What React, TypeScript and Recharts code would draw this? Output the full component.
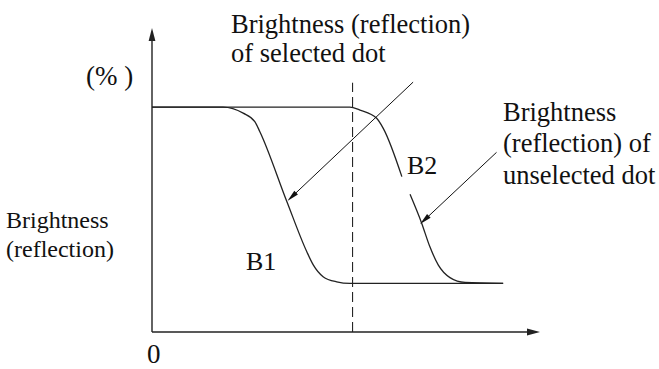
import React from 'react';
import { ComposedChart, Line, XAxis, YAxis, ReferenceLine } from 'recharts';

// brightness curves (x = position, y = brightness %)
const b1X = [0, 18.3, 23.5, 26.5, 27.8, 34.7, 39.9, 41.6, 44.1, 47.6, 51.0, 90.5];
const b1Y = [74, 74, 72.0, 69.2, 65.9, 43.1, 26.4, 22.0, 18.2, 16.5, 16, 16];

// B2 has a small break where its label sits
const b2X = [0, 51.0, 53.6, 57.9, 59.6, 64.4, 65.4, 66.5, 69.5, 71.6, 73.8, 76.8, 80.7, 90.5];
const b2Y = [74, 74, 73.0, 70.3, 67.0, 51.1, null, 45.3, 35.8, 28.1, 22.0, 17.9, 16.3, 16];

const thresholdX = 51.7;
const thresholdTop = 82;

// leader arrows: [from, to]
const selectedArrow = [{ x: 67.3, y: 82.2 }, { x: 34.9, y: 43.1 }];
const unselectedArrow = [{ x: 88.8, y: 59.1 }, { x: 69.1, y: 35.5 }];

const b1Data = b1X.map((x, i) => ({ x, y: b1Y[i] }));
const b2Data = b2X.map((x, i) => ({ x, y: b2Y[i] }));

const FONT = "'Liberation Serif', 'Times New Roman', 'DejaVu Serif', serif";

const makeArrow = (headLen: number, headHalf: number, stroke: string, width: number) => (props: any) => {
  const { x1, y1, x2, y2 } = props;
  const dx = x2 - x1;
  const dy = y2 - y1;
  const len = Math.sqrt(dx * dx + dy * dy) || 1;
  const ux = dx / len;
  const uy = dy / len;
  const bx = x2 - ux * headLen;
  const by = y2 - uy * headLen;
  const nx = -uy * headHalf;
  const ny = ux * headHalf;
  return (
    <g>
      <line x1={x1} y1={y1} x2={bx + ux * 1} y2={by + uy * 1} stroke={stroke} strokeWidth={width} />
      <polygon points={`${x2},${y2} ${bx + nx},${by + ny} ${bx - nx},${by - ny}`} fill={stroke} />
    </g>
  );
};

const AxisArrow = makeArrow(13, 3.4, '#222', 1.4);
const LeaderArrow = makeArrow(12, 2.6, '#111', 1);

const textStyle = { fontFamily: FONT, fill: '#111' };

export default function App() {
  return (
    <div style={{ position: 'absolute', left: 0, top: 0, width: 659, height: 369, background: '#fff', fontFamily: FONT }}>
      <ComposedChart width={659} height={369} margin={{ top: 28, right: 119, bottom: 37, left: 152 }}>
        <XAxis dataKey="x" type="number" domain={[0, 100]} hide allowDataOverflow />
        <YAxis type="number" domain={[0, 100]} hide allowDataOverflow />
        <ReferenceLine
          segment={[{ x: thresholdX, y: 0 }, { x: thresholdX, y: thresholdTop }]}
          stroke="#111"
          strokeWidth={1}
          strokeDasharray="10 5"
          ifOverflow="visible"
        />
        <Line
          data={b1Data}
          dataKey="y"
          type="monotone"
          stroke="#222"
          strokeWidth={1.3}
          dot={false}
          activeDot={false}
          isAnimationActive={false}
        />
        <Line
          data={b2Data}
          dataKey="y"
          type="monotone"
          stroke="#222"
          strokeWidth={1.3}
          dot={false}
          activeDot={false}
          connectNulls={false}
          isAnimationActive={false}
        />
        <ReferenceLine segment={[{ x: 0, y: 0 }, { x: 100, y: 0 }]} shape={AxisArrow} ifOverflow="visible" />
        <ReferenceLine segment={[{ x: 0, y: 0 }, { x: 0, y: 100 }]} shape={AxisArrow} ifOverflow="visible" />
        <ReferenceLine segment={selectedArrow} shape={LeaderArrow} ifOverflow="visible" />
        <ReferenceLine segment={unselectedArrow} shape={LeaderArrow} ifOverflow="visible" />
      </ComposedChart>
      <svg width={659} height={369} style={{ position: 'absolute', left: 0, top: 0, pointerEvents: 'none' }}>
        <text x={231} y={33} fontSize={26.5} style={textStyle}>Brightness (reflection)</text>
        <text x={231} y={62} fontSize={26.5} style={textStyle}>of selected dot</text>
        <text x={86} y={85} fontSize={27} style={{ ...textStyle, whiteSpace: 'pre' }}>(% )</text>
        <text x={407} y={174} fontSize={26} style={textStyle}>B2</text>
        <text x={246} y={270} fontSize={26} style={textStyle}>B1</text>
        <text x={503} y={121} fontSize={26.5} style={textStyle}>Brightness</text>
        <text x={503} y={152} fontSize={26.5} style={textStyle}>(reflection) of</text>
        <text x={503} y={184} fontSize={26.5} style={textStyle}>unselected dot</text>
        <text x={6} y={228} fontSize={24} style={textStyle}>Brightness</text>
        <text x={6} y={257} fontSize={24} style={textStyle}>(reflection)</text>
        <text x={147} y={363} fontSize={27} style={textStyle}>0</text>
      </svg>
    </div>
  );
}
